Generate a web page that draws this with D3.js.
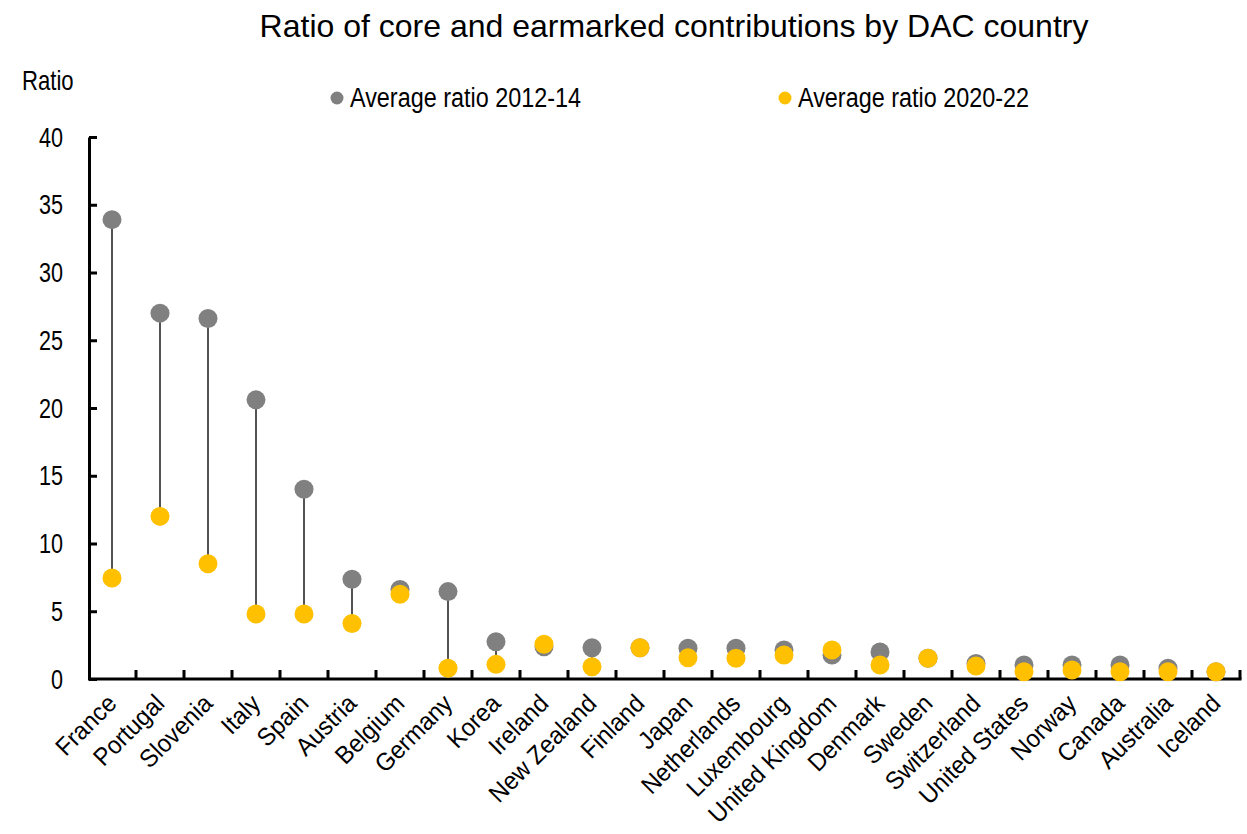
<!DOCTYPE html>
<html>
<head>
<meta charset="utf-8">
<script src="https://cdn.jsdelivr.net/npm/d3@7"></script>
<style>
  body { margin: 0; background: #fff; }
  text { font-family: "Liberation Sans", Arial, sans-serif; fill: #000; }
</style>
</head>
<body>
<svg width="1247" height="834"></svg>
<script>
// data
const countries = ["France", "Portugal", "Slovenia", "Italy", "Spain", "Austria", "Belgium", "Germany",
    "Korea", "Ireland", "New Zealand", "Finland", "Japan", "Netherlands", "Luxembourg", "United Kingdom",
    "Denmark", "Sweden", "Switzerland", "United States", "Norway", "Canada", "Australia", "Iceland"];
const ratio2012 = [33.9, 27.0, 26.6, 20.6, 14.0, 7.36, 6.6, 6.45, 2.75, 2.38, 2.3, 2.3, 2.27, 2.27, 2.14, 1.77,
    2.0, 1.53, 1.15, 1.03, 1.03, 1.03, 0.79, 0.54];
const ratio2020 = [7.45, 12.0, 8.5, 4.8, 4.8, 4.1, 6.25, 0.8, 1.08, 2.56, 0.9, 2.3, 1.57, 1.53, 1.77, 2.14,
    1.03, 1.53, 0.96, 0.54, 0.66, 0.54, 0.54, 0.54];
const yTicks = [0, 5, 10, 15, 20, 25, 30, 35, 40];
const seriesNames = ["Average ratio 2012-14", "Average ratio 2020-22"];
const colors = ["#808080", "#FFC000"];

const data = countries.map((c, i) => ({ country: c, a: ratio2012[i], b: ratio2020[i] }));

const svg = d3.select("svg");
const width = 1247;
const margin = { top: 137, left: 88, right: 7, base: 679 };

const x = d3.scaleBand()
    .domain(countries)
    .range([margin.left, width - margin.right]);

const y = d3.scaleLinear()
    .domain([0, 40])
    .range([margin.base, margin.top]);

const cx = d => x(d) + x.bandwidth() / 2;

// title
svg.append("text")
    .attr("x", 674)
    .attr("y", 37)
    .attr("text-anchor", "middle")
    .attr("font-size", 32)
    .text("Ratio of core and earmarked contributions by DAC country");

// axis title (narrow face, squeezed)
svg.append("text")
    .attr("transform", "translate(22,90) scale(0.82,1)")
    .attr("font-size", 27)
    .text("Ratio");

// legend
const legendX = [337, 785];
seriesNames.forEach((n, i) => {
    svg.append("circle")
        .attr("cx", legendX[i])
        .attr("cy", 98)
        .attr("r", 6.5)
        .attr("fill", colors[i]);
    svg.append("text")
        .attr("x", legendX[i] + 13)
        .attr("y", 107)
        .attr("font-size", 27)
        .attr("textLength", 231)
        .attr("lengthAdjust", "spacingAndGlyphs")
        .text(n);
});

// y axis
svg.append("g")
    .attr("transform", "translate(" + (margin.left + 1) + ",0)")
    .call(d3.axisRight(y).tickValues(yTicks).tickSize(8).tickFormat("").tickSizeOuter(0))
    .call(g => g.selectAll("line, path").attr("stroke", "#000").attr("stroke-width", 3));

svg.append("g")
    .selectAll("text")
    .data(yTicks)
    .join("text")
    .attr("transform", d => "translate(63," + (y(d) + 9.5) + ") scale(0.8,1)")
    .attr("text-anchor", "end")
    .attr("font-size", 27)
    .text(d => d);

// x axis: ticks at category boundaries, pointing up
const boundaries = countries.map(c => x(c) + x.bandwidth());
const xg = svg.append("g");
xg.append("line")
    .attr("x1", margin.left)
    .attr("x2", width - margin.right + 1.5)
    .attr("y1", y(0))
    .attr("y2", y(0))
    .attr("stroke", "#000")
    .attr("stroke-width", 3);
xg.selectAll(".tick")
    .data(boundaries)
    .join("line")
    .attr("x1", d => d)
    .attr("x2", d => d)
    .attr("y1", y(0))
    .attr("y2", y(0) - 9)
    .attr("stroke", "#000")
    .attr("stroke-width", 3);

xg.selectAll(".lab")
    .data(countries)
    .join("text")
    .attr("font-size", 25)
    .attr("text-anchor", "end")
    .attr("transform", d => "translate(" + (cx(d) + 6) + "," + (y(0) + 26) + ") rotate(-45) scale(0.95,1)")
    .text(d => d);

// connectors
svg.append("g")
    .selectAll("line")
    .data(data)
    .join("line")
    .attr("x1", d => cx(d.country))
    .attr("x2", d => cx(d.country))
    .attr("y1", d => y(d.a))
    .attr("y2", d => y(d.b))
    .attr("stroke", "#1a1a1a")
    .attr("stroke-width", 1.5);

// dots
svg.append("g")
    .selectAll("circle")
    .data(data)
    .join("circle")
    .attr("cx", d => cx(d.country))
    .attr("cy", d => y(d.a))
    .attr("r", 9.5)
    .attr("fill", colors[0]);

svg.append("g")
    .selectAll("circle")
    .data(data)
    .join("circle")
    .attr("cx", d => cx(d.country))
    .attr("cy", d => y(d.b))
    .attr("r", 9.5)
    .attr("fill", colors[1]);
</script>
</body>
</html>
